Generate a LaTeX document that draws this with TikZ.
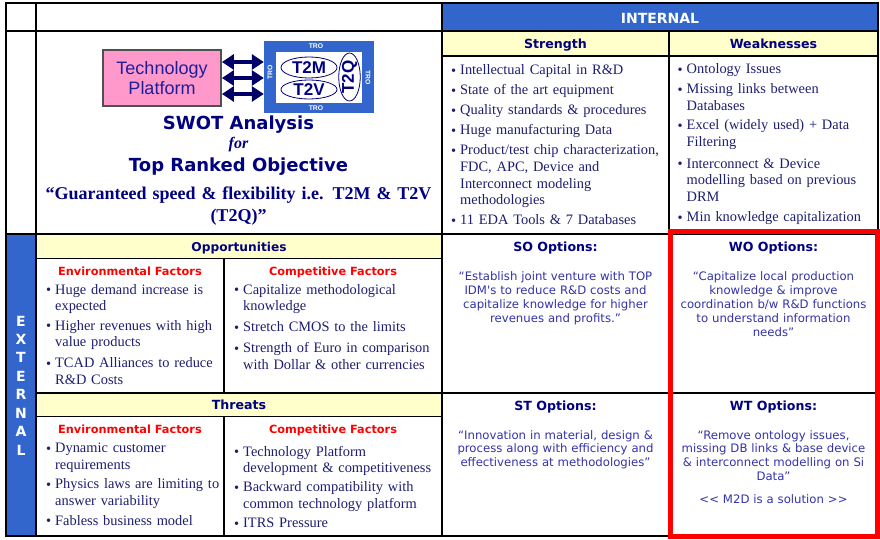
\documentclass[tikz,border=0pt]{standalone}
\usepackage{fontspec}
\setmainfont{Liberation Serif}
\newfontfamily\vsans{DejaVu Sans}
\newfontfamily\asans{Liberation Sans}
\usetikzlibrary{arrows.meta,shapes.geometric}

\definecolor{hdrblue}{HTML}{3366CC}
\definecolor{hdryellow}{HTML}{FFFFCC}
\definecolor{navy}{HTML}{000080}
\definecolor{arrownavy}{HTML}{000066}
\definecolor{bodytxt}{HTML}{1E1E70}
\definecolor{opttxt}{HTML}{3333AA}
\definecolor{factred}{HTML}{FF0000}
\definecolor{pinkbox}{HTML}{FF99CC}
\definecolor{logotxt}{HTML}{1E1E96}
\definecolor{boxedge}{HTML}{505050}

% bullet in a fixed-width box; \ind indents the continuation lines to match
\newcommand\bl{\makebox[9pt][l]{\raisebox{-0.6pt}{\textbullet}}}
\newcommand\ind{\hspace*{9pt}}
\newcommand\fs[2]{\fontsize{#1}{#2}\selectfont}

\tikzset{
  gridline/.style={line width=1.1pt, black, line cap=rect},
  hdr/.style={anchor=base, inner sep=0pt, text=navy, font=\vsans\bfseries\fs{12.6}{15}},
  fact/.style={anchor=base, inner sep=0pt, text=factred, font=\vsans\bfseries\fs{11.3}{13}},
  bitem/.style={anchor=base west, inner sep=0pt, text width=215pt, align=left, text=bodytxt, font=\fs{14.4}{16.6}},
  optxt/.style={anchor=base, inner sep=0pt, text width=205pt, align=center, text=opttxt, font=\vsans\fs{11.7}{13.9}},
  trolabel/.style={inner sep=0pt, text=white, font=\asans\bfseries\fs{6.8}{7}},
  cycleoval/.style={ellipse, draw=navy, line width=0.8pt, inner sep=0pt, text=navy, font=\asans\bfseries\fs{17}{18}},
  dblarrow/.style={draw=arrownavy, line width=4.5pt, arrows={Triangle[length=12pt,width=15pt]-Triangle[length=12pt,width=15pt]}},
  headline/.style={anchor=base, inner sep=0pt, text=navy, font=\vsans\bfseries\fs{18}{20}},
}

\begin{document}
\begin{tikzpicture}[x=1pt,y=-1pt]
\useasboundingbox (0,0) rectangle (880,540);
\fill[white] (0,0) rectangle (880,540);

% shaded cells
\fill[hdrblue] (442,3) rectangle (878,31);
\fill[hdryellow] (442,31) rectangle (878,56);
\fill[hdryellow] (36,234) rectangle (442,258.5);
\fill[hdryellow] (36,393) rectangle (442,416.5);
\fill[hdrblue] (6,234) rectangle (36,536);

% table rules
\draw[gridline]
  (6,3) -- (878,3) (6,31) -- (878,31) (6,234) -- (878,234) (6,536) -- (878,536)
  (442,56) -- (878,56) (36,258.5) -- (442,258.5) (36,416.5) -- (442,416.5) (36,393) -- (878,393)
  (6,3) -- (6,536) (36,3) -- (36,536) (442,3) -- (442,536) (878,3) -- (878,536)
  (669,31) -- (669,536) (224,258.5) -- (224,393) (224,416.5) -- (224,536);

% highlighted WO / WT block
\draw[red, line width=5pt] (670.5,231) rectangle (877.5,536.5);

% ---------- logo ----------
\node[draw=boxedge, line width=1.8pt, fill=pinkbox, minimum width=118pt, minimum height=56pt,
      inner sep=0pt, align=center, text=logotxt, font=\asans\fs{18}{20}] (tp) at (162,78) {Technology\\Platform};
\node[fill=hdrblue, minimum width=110pt, minimum height=72pt, inner sep=0pt] (tro) at (319,77) {};
\node[fill=white, minimum width=86pt, minimum height=51pt, inner sep=0pt] (core) at (319,77.5) {};
\node[cycleoval, minimum width=56pt, minimum height=21pt] (t2m) at (309,67.5) {T2M};
\node[cycleoval, minimum width=56pt, minimum height=19pt] (t2v) at (309,89.5) {T2V};
\node[cycleoval, minimum width=48pt, minimum height=21pt, rotate=90] (t2q) at (349.5,77) {T2Q};
\node[trolabel] (trotop) at (316,46.5) {TRO};
\node[trolabel] (trobot) at (316,108) {TRO};
\node[trolabel, rotate=90] (troleft) at (270,72) {TRO};
\node[trolabel, rotate=-90] (troright) at (368,78) {TRO};

\coordinate (a1) at ([yshift=16pt]tp.east);
\coordinate (a2) at (tp.east);
\coordinate (a3) at ([yshift=-16pt]tp.east);
\draw[dblarrow] (a1) -- (a1 -| tro.west);
\draw[dblarrow] (a2) -- (a2 -| tro.west);
\draw[dblarrow] (a3) -- (a3 -| tro.west);

\node[headline] (swot) at (238.5,129.3) {SWOT Analysis};
\node[anchor=base, inner sep=0pt, text=navy, font=\bfseries\itshape\fs{16}{18}] (for) at (238.5,149) {for};
\node[headline] (objective) at (238.5,171.7) {Top Ranked Objective};
\node[anchor=base, inner sep=0pt, text width=400pt, align=center, text=navy, font=\bfseries\fs{18}{22.4}]
  (quote) at (238.5,199.3) {“Guaranteed speed \& flexibility i.e. T2M \& T2V\\(T2Q)”};

% ---------- headers ----------
\node[hdr, text=white, font=\vsans\bfseries\fs{14}{16}] (internal) at (660,24) {INTERNAL};
\node[hdr] (strength) at (555.5,49) {Strength};
\node[hdr] (weak) at (773.5,49) {Weaknesses};
\node[hdr, font=\vsans\bfseries\fs{12.2}{14}] (opp) at (239,251.5) {Opportunities};
\node[hdr] (threats) at (239,409) {Threats};
\node[anchor=base, inner sep=0pt, text width=20pt, align=center, text=white, font=\vsans\bfseries\fs{14}{18.43}]
  (external) at (21,326) {E\\X\\T\\E\\R\\N\\A\\L};

% ---------- strengths ----------
\node[bitem] (s1) at (451,74.5) {\bl Intellectual Capital in R\&D};
\node[bitem] (s2) at (451,94.5) {\bl State of the art equipment};
\node[bitem] (s3) at (451,114.5) {\bl Quality standards \& procedures};
\node[bitem] (s4) at (451,135) {\bl Huge manufacturing Data};
\node[bitem] (s5) at (451,155) {\bl Product/test chip characterization,\\\ind FDC, APC, Device and\\\ind Interconnect modeling\\\ind methodologies};
\node[bitem] (s6) at (451,224.5) {\bl 11 EDA Tools \& 7 Databases};

% ---------- weaknesses ----------
\node[bitem] (w1) at (677.5,74) {\bl Ontology Issues};
\node[bitem] (w2) at (677.5,94) {\bl Missing links between\\\ind Databases};
\node[bitem] (w3) at (677.5,130) {\bl Excel (widely used) + Data\\\ind Filtering};
\node[bitem] (w4) at (677.5,168) {\bl Interconnect \& Device\\\ind modelling based on previous\\\ind DRM};
\node[bitem] (w5) at (677.5,221.5) {\bl Min knowledge capitalization};

% ---------- opportunities ----------
\node[fact] (oenv) at (130,275) {Environmental Factors};
\node[fact] (ocomp) at (333,275) {Competitive Factors};
\node[bitem] (oe1) at (46,294.3) {\bl Huge demand increase is\\\ind expected};
\node[bitem] (oe2) at (46,330) {\bl Higher revenues with high\\\ind value products};
\node[bitem] (oe3) at (46,367.7) {\bl TCAD Alliances to reduce\\\ind R\&D Costs};
\node[bitem] (oc1) at (234,294.3) {\bl Capitalize methodological\\\ind knowledge};
\node[bitem] (oc2) at (234,331.7) {\bl Stretch CMOS to the limits};
\node[bitem] (oc3) at (234,352.7) {\bl Strength of Euro in comparison\\\ind with Dollar \& other currencies};

% ---------- threats ----------
\node[fact] (tenv) at (130,433) {Environmental Factors};
\node[fact] (tcomp) at (333,433) {Competitive Factors};
\node[bitem] (te1) at (46,452.7) {\bl Dynamic customer\\\ind requirements};
\node[bitem] (te2) at (46,488.7) {\bl Physics laws are limiting to\\\ind answer variability};
\node[bitem] (te3) at (46,525) {\bl Fabless business model};
\node[bitem] (tc1) at (234,456) {\bl Technology Platform\\\ind development \& competitiveness};
\node[bitem] (tc2) at (234,491.7) {\bl Backward compatibility with\\\ind common technology platform};
\node[bitem] (tc3) at (234,527.7) {\bl ITRS Pressure};

% ---------- options ----------
\node[hdr] (so) at (555.5,251) {SO Options:};
\node[hdr] (wo) at (773.5,251) {WO Options:};
\node[hdr] (st) at (555.5,410) {ST Options:};
\node[hdr] (wt) at (773.5,410) {WT Options:};
\node[optxt] (sotext) at (555.5,280.7) {“Establish joint venture with TOP\\IDM's to reduce R\&D costs and\\capitalize knowledge for higher\\revenues and profits.”};
\node[optxt] (wotext) at (773.5,280.7) {“Capitalize local production\\knowledge \& improve\\coordination b/w R\&D functions\\to understand information\\needs”};
\node[optxt] (sttext) at (555.5,439) {“Innovation in material, design \&\\process along with efficiency and\\effectiveness at methodologies”};
\node[optxt] (wttext) at (773.5,439) {“Remove ontology issues,\\missing DB links \& base device\\\& interconnect modelling on Si\\Data”};
\node[optxt] (m2d) at (773.5,503.3) {<\kern0pt< M2D is a solution >\kern0pt>};
\end{tikzpicture}
\end{document}
